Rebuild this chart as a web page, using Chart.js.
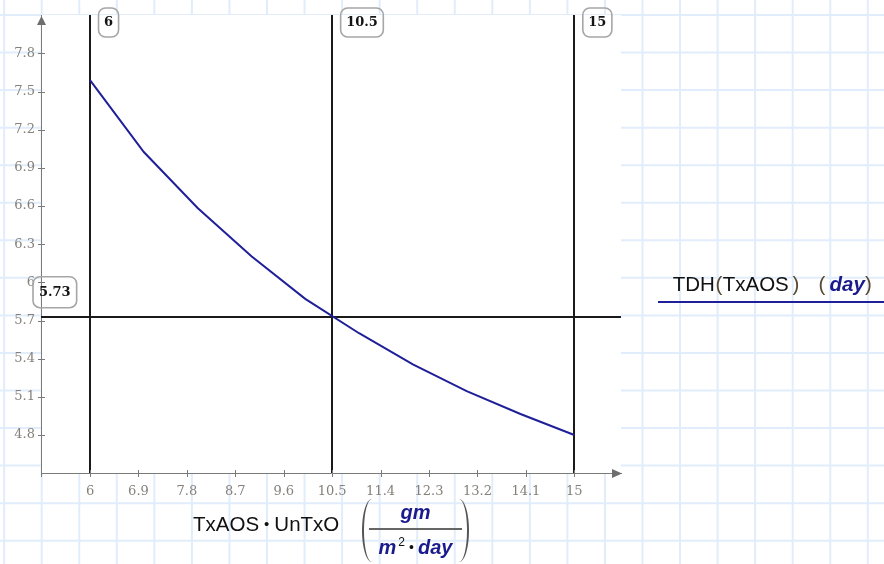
<!DOCTYPE html>
<html>
<head>
<meta charset="utf-8">
<script src="https://cdn.jsdelivr.net/npm/chart.js@4.4.1/dist/chart.umd.min.js"></script>
<style>
  html, body { margin: 0; padding: 0; background: #ffffff; }
  #wrap { position: relative; width: 884px; height: 564px; overflow: hidden; }
  #c { position: absolute; left: 0; top: 0; }
  .t { position: absolute; white-space: nowrap; font-family: "Liberation Sans", Arial, sans-serif; font-size: 20.5px; line-height: 1; color: #111; }
  .u { font-weight: bold; font-style: italic; color: #1a1a8c; }
  .p { color: #5a4830; }
  .bul { font-size: 15px; margin: 0 5px; position: relative; top: -2px; }
</style>
</head>
<body>
<div id="wrap">
  <canvas id="c" width="884" height="564"></canvas>

  <!-- x axis title -->
  <div class="t" style="left:193px; top:513.6px;">TxAOS<span class="bul">•</span>UnTxO</div>
  <div style="position:absolute; left:362px; top:499px; width:10px; height:63px; box-sizing:border-box; border-left:2px solid #555; border-radius:10px 0 0 10px / 31px 0 0 31px;"></div>
  <div style="position:absolute; left:459px; top:499px; width:10px; height:63px; box-sizing:border-box; border-right:2px solid #555; border-radius:0 10px 10px 0 / 0 31px 31px 0;"></div>
  <div class="t u" style="left:369px; width:93px; text-align:center; top:502px; font-size:20px;">gm</div>
  <div style="position:absolute; left:369px; top:528px; width:93px; height:2px; background:#666;"></div>
  <div class="t" style="left:369px; width:93px; text-align:center; top:537px; font-size:20px;"><span class="u">m</span><span style="font-size:12px; position:relative; top:-8px; margin-left:2px;">2</span><span class="bul" style="font-size:14px; margin:0 4px;">•</span><span class="u">day</span></div>

  <!-- legend -->
  <div class="t" style="left:672.7px; top:274.3px;">TDH</div>
  <div class="t p" style="left:715.5px; top:274.3px;">(</div>
  <div class="t" style="left:722.7px; top:274.3px;">TxAOS</div>
  <div class="t p" style="left:792.5px; top:274.3px;">)</div>
  <div class="t p" style="left:818.5px; top:274.3px;">(</div>
  <div class="t u" style="left:829.5px; top:274.3px;">day</div>
  <div class="t p" style="left:865px; top:274.3px;">)</div>
  <div style="position:absolute; left:658px; top:301px; width:226px; height:2px; background:#1f1f99;"></div>
</div>

<script>
// ---- data ----
const xValues   = [6, 7, 8, 9, 10, 11, 12, 13, 14, 15];
const tdhValues = [7.59, 7.025, 6.585, 6.205, 5.87, 5.60, 5.355, 5.145, 4.965, 4.80];

const xTickValues = [6, 6.9, 7.8, 8.7, 9.6, 10.5, 11.4, 12.3, 13.2, 14.1, 15];
const xTickLabels = ['6', '6.9', '7.8', '8.7', '9.6', '10.5', '11.4', '12.3', '13.2', '14.1', '15'];
const yTickValues = [4.8, 5.1, 5.4, 5.7, 6, 6.3, 6.6, 6.9, 7.2, 7.5, 7.8];
const yTickLabels = ['4.8', '5.1', '5.4', '5.7', '6', '6.3', '6.6', '6.9', '7.2', '7.5', '7.8'];

const markerX = [6, 10.5, 15];
const markerXLabels = ['6', '10.5', '15'];
const markerY = [5.73];
const markerYLabels = ['5.73'];

const xMin = 5.089, xMax = 15.868;
const yMin = 4.501, yMax = 8.102;

// ---- helpers ----
function rrect(ctx, x, y, w, h, r) {
  ctx.beginPath();
  ctx.moveTo(x + r, y);
  ctx.lineTo(x + w - r, y);
  ctx.arcTo(x + w, y, x + w, y + r, r);
  ctx.lineTo(x + w, y + h - r);
  ctx.arcTo(x + w, y + h, x + w - r, y + h, r);
  ctx.lineTo(x + r, y + h);
  ctx.arcTo(x, y + h, x, y + h - r, r);
  ctx.lineTo(x, y + r);
  ctx.arcTo(x, y, x + r, y, r);
  ctx.closePath();
}

const AXIS_COLOR = '#7a7a7a';
const TICK_COLOR = '#85807a';

const sheetPlugin = {
  id: 'sheet',
  beforeDraw(chart) {
    const ctx = chart.ctx, ca = chart.chartArea;
    const W = chart.width, H = chart.height;
    ctx.save();
    ctx.fillStyle = '#ffffff';
    ctx.fillRect(0, 0, W, H);
    ctx.strokeStyle = '#e1edfb';
    ctx.lineWidth = 2;
    const sp = 37.55;
    for (let x = 41.7 - sp; x < W + 2; x += sp) {
      ctx.beginPath(); ctx.moveTo(x, 0); ctx.lineTo(x, H); ctx.stroke();
    }
    for (let y = 15 - sp; y < H + 2; y += sp) {
      ctx.beginPath(); ctx.moveTo(0, y); ctx.lineTo(W, y); ctx.stroke();
    }
    ctx.fillStyle = '#ffffff';
    ctx.fillRect(ca.left, ca.top, ca.right - ca.left, ca.bottom - ca.top);
    ctx.restore();
  },
  beforeDatasetsDraw(chart) {
    const ctx = chart.ctx, ca = chart.chartArea;
    const xs = chart.scales.x, ys = chart.scales.y;
    ctx.save();
    ctx.strokeStyle = '#1a1a1a';
    ctx.lineWidth = 2;
    markerX.forEach(v => {
      const px = Math.round(xs.getPixelForValue(v));
      ctx.beginPath(); ctx.moveTo(px, ca.top); ctx.lineTo(px, ca.bottom); ctx.stroke();
    });
    markerY.forEach(v => {
      const py = Math.round(ys.getPixelForValue(v));
      ctx.beginPath(); ctx.moveTo(ca.left, py); ctx.lineTo(ca.right, py); ctx.stroke();
    });
    ctx.restore();
  },
  afterDraw(chart) {
    const ctx = chart.ctx, ca = chart.chartArea;
    const xs = chart.scales.x, ys = chart.scales.y;
    ctx.save();
    ctx.strokeStyle = AXIS_COLOR;
    ctx.lineWidth = 1;
    xs.ticks.forEach(t => {
      const px = Math.round(xs.getPixelForValue(t.value)) + 0.5;
      ctx.beginPath(); ctx.moveTo(px, ca.bottom - 3); ctx.lineTo(px, ca.bottom + 4); ctx.stroke();
    });
    ctx.beginPath(); ctx.moveTo(ca.left + 0.5, ca.bottom - 3); ctx.lineTo(ca.left + 0.5, ca.bottom + 4); ctx.stroke();
    ys.ticks.forEach(t => {
      const py = Math.round(ys.getPixelForValue(t.value)) + 0.5;
      ctx.beginPath(); ctx.moveTo(ca.left - 3, py); ctx.lineTo(ca.left + 4, py); ctx.stroke();
    });
    ctx.fillStyle = '#6e6e6e';
    ctx.beginPath();
    ctx.moveTo(ca.left + 0.5, ca.top + 1);
    ctx.lineTo(ca.left + 0.5 - 4.5, ca.top + 10);
    ctx.lineTo(ca.left + 0.5 + 4.5, ca.top + 10);
    ctx.closePath(); ctx.fill();
    ctx.beginPath();
    ctx.moveTo(ca.right + 1, ca.bottom + 0.5);
    ctx.lineTo(ca.right - 9, ca.bottom + 0.5 - 4.5);
    ctx.lineTo(ca.right - 9, ca.bottom + 0.5 + 4.5);
    ctx.closePath(); ctx.fill();

    ctx.font = 'bold 13px "DejaVu Serif"';
    ctx.textBaseline = 'middle';
    ctx.textAlign = 'center';
    markerX.forEach((v, i) => {
      const px = xs.getPixelForValue(v);
      const tw = ctx.measureText(markerXLabels[i]).width;
      const bw = tw + 11, bh = 29;
      const bx = px + 8.5, by = 8;
      rrect(ctx, bx, by, bw, bh, 7);
      ctx.strokeStyle = '#a6a6a6'; ctx.lineWidth = 1.6; ctx.stroke();
      ctx.fillStyle = '#141414';
      ctx.fillText(markerXLabels[i], bx + bw / 2, by + bh / 2 + 0.5);
    });
    markerY.forEach((v, i) => {
      const py = ys.getPixelForValue(v);
      const tw = ctx.measureText(markerYLabels[i]).width;
      const bw = tw + 12, bh = 31;
      const bx = ca.left - 8, by = py - 40;
      rrect(ctx, bx, by, bw, bh, 7);
      ctx.strokeStyle = '#a6a6a6'; ctx.lineWidth = 1.6; ctx.stroke();
      ctx.fillStyle = '#141414';
      ctx.fillText(markerYLabels[i], bx + bw / 2, by + bh / 2 + 0.5);
    });
    ctx.restore();
  }
};

new Chart(document.getElementById('c'), {
  type: 'scatter',
  data: {
    datasets: [{
      label: 'TDH(TxAOS)',
      data: xValues.map((x, i) => ({ x: x, y: tdhValues[i] })),
      showLine: true,
      borderColor: '#1f1f99',
      borderWidth: 2,
      pointRadius: 0,
      tension: 0,
      fill: false
    }]
  },
  options: {
    responsive: false,
    animation: false,
    devicePixelRatio: 1,
    layout: { padding: { left: 0, right: 263, top: 15, bottom: 0 } },
    plugins: { legend: { display: false }, tooltip: { enabled: false }, title: { display: false } },
    scales: {
      x: {
        type: 'linear',
        position: 'bottom',
        min: xMin, max: xMax,
        afterFit: s => { s.height = 91; },
        afterBuildTicks: s => { s.ticks = xTickValues.map(v => ({ value: v })); },
        grid: { display: false, drawTicks: false },
        border: { display: true, color: AXIS_COLOR, width: 1 },
        ticks: {
          autoSkip: false, maxRotation: 0,
          padding: 11,
          color: TICK_COLOR,
          font: { family: 'DejaVu Serif', size: 13 },
          callback: (v) => { const i = xTickValues.indexOf(v); return i >= 0 ? xTickLabels[i] : ''; }
        }
      },
      y: {
        type: 'linear',
        position: 'left',
        min: yMin, max: yMax,
        afterFit: s => { s.width = 41; },
        afterBuildTicks: s => { s.ticks = yTickValues.map(v => ({ value: v })); },
        grid: { display: false, drawTicks: false },
        border: { display: true, color: AXIS_COLOR, width: 1 },
        ticks: {
          autoSkip: false,
          padding: 6,
          color: TICK_COLOR,
          font: { family: 'DejaVu Serif', size: 13 },
          callback: (v) => { const i = yTickValues.indexOf(v); return i >= 0 ? yTickLabels[i] : ''; }
        }
      }
    }
  },
  plugins: [sheetPlugin]
});
</script>
</body>
</html>
